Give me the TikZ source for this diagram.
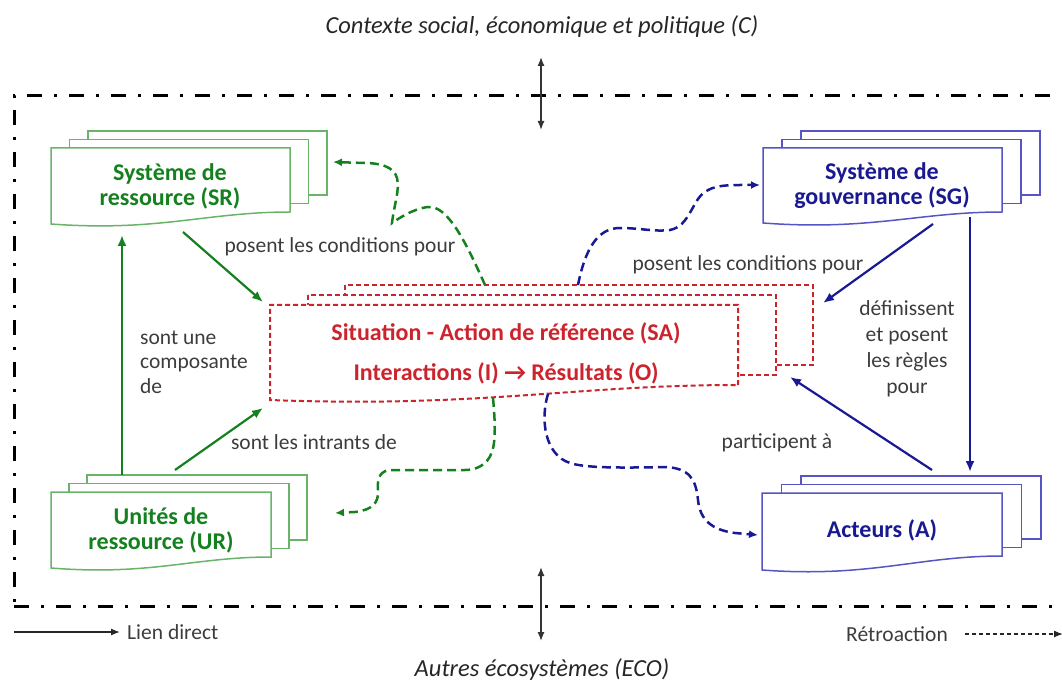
\documentclass[tikz,border=0pt]{standalone}
\usepackage{fontspec}
\setmainfont{Carlito}
\usetikzlibrary{arrows.meta,calc}

\definecolor{gtext}{RGB}{20,128,30}
\definecolor{gline}{RGB}{105,180,105}
\definecolor{garrow}{RGB}{20,128,30}
\definecolor{btext}{RGB}{25,25,145}
\definecolor{bline}{RGB}{85,85,195}
\definecolor{barrow}{RGB}{25,25,150}
\definecolor{rcol}{RGB}{205,35,45}
\definecolor{lbl}{RGB}{60,60,60}

\tikzset{
  framebox/.style={inner sep=0pt, outer sep=0pt, minimum width=#1},
  boxtext/.style={font=\bfseries\fontsize{24}{25}\selectfont, align=center, inner sep=0pt},
  lbltext/.style={font=\fontsize{21.5}{25}\selectfont, text=lbl, inner sep=0pt},
  ittext/.style={font=\itshape\fontsize{24.5}{25}\selectfont, text=black!85, inner sep=0pt},
  gdoc/.style={draw=gline, line width=1.5pt, fill=white},
  bdoc/.style={draw=bline, line width=1.5pt, fill=white},
  rdoc/.style={draw=rcol, line width=2pt, dash pattern=on 5pt off 3pt, fill=white},
  garr/.style={draw=garrow, line width=2.2pt, -{Latex[length=11pt,width=9pt]}},
  barr/.style={draw=barrow, line width=2.2pt, -{Latex[length=11pt,width=9pt]}},
  gfb/.style={draw=garrow, line width=2.5pt, dash pattern=on 9pt off 5pt, -{Latex[length=9pt,width=8pt]}},
  bfb/.style={draw=barrow, line width=2.5pt, dash pattern=on 9pt off 5pt, -{Latex[length=9pt,width=8pt]}},
  ctxarr/.style={draw=black!80, line width=1.3pt, {Latex[length=9pt,width=7pt]}-{Latex[length=9pt,width=7pt]}},
}

% #1 node, #2 style, #3 dx, #4 dy, #5 dip
\newcommand\docstack[5]{%
  \path[#2] ([shift={(2*#3,2*#4)}]#1.north west) rectangle ([shift={(2*#3,2*#4)}]#1.south east);
  \path[#2] ([shift={(#3,#4)}]#1.north west) rectangle ([shift={(#3,#4)}]#1.south east);
  \path[#2] (#1.south east) -- (#1.north east) -- (#1.north west) -- ($(#1.south west)+(0,#5)$)
    .. controls ($(#1.south west)!0.45!(#1.south east)+(0,#5+8)$) and ($(#1.south west)!0.65!(#1.south east)$) .. (#1.south east) -- cycle;
}

\begin{document}
\begin{tikzpicture}[x=1pt,y=-1pt]
\useasboundingbox (0,0) rectangle (1062,684);

% outer frame
\node[draw=black, line width=3pt, dash pattern=on 15pt off 12pt on 3pt off 12pt,
      minimum width=1061pt, minimum height=510pt, inner sep=0pt] (F) at (544.5,351) {};

% context texts
\node[ittext] (C) at (542,27) {Contexte social, économique et politique (C)};
\node[ittext] (ECO) at (542,670) {Autres écosystèmes (ECO)};
\coordinate (ctop) at (541,57);
\coordinate (cbot) at (541,130);
\coordinate (etop) at (541,567);
\coordinate (ebot) at (541,641);
\draw[ctxarr] (ctop) -- (cbot);
\draw[ctxarr] (etop) -- (ebot);

% box frames
\node[framebox=239pt, minimum height=64pt] (SR) at (170.5,180) {};
\node[framebox=220pt, minimum height=65pt] (UR) at (161,524.5) {};
\node[framebox=239pt, minimum height=64pt] (SG) at (882.5,180) {};
\node[framebox=240pt, minimum height=63pt] (A) at (882,524.5) {};
\node[framebox=468pt, minimum height=80pt] (SA) at (504,345) {};

\docstack{SR}{gdoc}{18.5}{-8.5}{12}
\docstack{UR}{gdoc}{18}{-8.5}{11}
\docstack{SG}{bdoc}{19}{-8.5}{11}
\docstack{A}{bdoc}{19.5}{-8.5}{14}
\docstack{SA}{rdoc}{37.5}{-10}{15}

% box texts
\node[boxtext, text=gtext] (SRt) at (170,186) {Système de\\ressource (SR)};
\node[boxtext, text=gtext] (URt) at (161,530) {Unités de\\ressource (UR)};
\node[boxtext, text=btext] (SGt) at (882,186) {Système de\\gouvernance (SG)};
\node[boxtext, text=btext] (At) at (882,530) {Acteurs (A)};
\node[boxtext, text=rcol, font=\bfseries\fontsize{24}{40}\selectfont] (SAt) at (506,353)
  {Situation - Action de référence (SA)\\Interactions (I) \textrightarrow{} Résultats (O)};

% labels
\node[lbltext] (L1) at (340,247) {posent les conditions pour};
\node[lbltext, align=left, anchor=west, font=\fontsize{21.5}{24.5}\selectfont] (L2) at (140,362) {sont une\\composante\\de};
\node[lbltext] (L3) at (314,442) {sont les intrants de};
\node[lbltext] (L4) at (748,265) {posent les conditions pour};
\node[lbltext, align=center, font=\fontsize{21.5}{26}\selectfont] (L5) at (907,349) {définissent\\et posent\\les règles\\pour};
\node[lbltext] (L6) at (777,443) {participent à};

% solid links
\draw[garr] ($(SR.south)+(12.5,20)$) -- ($(SA.north west)+(-7,-3)$);
\draw[garr] ($(UR.north west)+(71,-17)$) -- ($(SR.south west)+(71,23)$);
\draw[garr] ($(UR.north west)+(124,-22)$) -- ($(SA.south west)+(-7,23)$);
\draw[barr] ($(SG.south west)+(170,12)$) -- ($(SA.north east)+(85,-2)$);
\draw[barr] ($(SG.south west)+(207,5)$) -- ($(A.north west)+(208,-21)$);
\draw[barr] ($(A.north west)+(170,-23)$) -- ($(SA.south east)+(52,-8)$);

% feedback links
\draw[gfb] ($(SA.north west)+(215,-20)$) .. controls (465,240) and (447,205) .. (428,207)
  .. controls (412,209) and (398,219) .. (392,223)
  .. controls (394,205) and (400,190) .. (397,178)
  .. controls (394,166) and (378,163) .. (365,163) -- ($(SR.north east)+(43,14)$);
\draw[gfb] ($(SA.south west)+(223,13)$) .. controls (495,420) and (496,440) .. (492,452)
  .. controls (487,466) and (475,470) .. (465,470) -- (392,470)
  .. controls (380,470) and (377,478) .. (378,490)
  .. controls (379,503) and (372,510) .. (355,512) -- ($(UR.north east)+(64,21)$);
\draw[bfb] ($(SA.north west)+(308,-20)$) .. controls (585,250) and (597,228) .. (620,228)
  .. controls (640,228) and (655,232) .. (670,230)
  .. controls (690,226) and (692,200) .. (705,192)
  .. controls (713,186) and (725,185) .. (740,185) -- ($(SG.north west)+(-3,37)$);
\draw[bfb] ($(SA.south west)+(278,9)$) .. controls (540,420) and (545,455) .. (570,463)
  .. controls (585,468) and (620,468) .. (665,467)
  .. controls (690,468) and (696,480) .. (698,500)
  .. controls (700,520) and (712,530) .. (735,533) -- ($(A.north west)+(-4,42)$);

% legend
\node[lbltext, anchor=west] (LD) at (127,632) {Lien direct};
\coordinate (ld0) at (14,632);
\draw[draw=black!85, line width=1.3pt, -{Latex[length=9pt,width=7pt]}] (ld0) -- ([xshift=-7pt]LD.west);
\node[lbltext, anchor=east] (RT) at (948,634) {Rétroaction};
\coordinate (rt1) at (1063,634);
\draw[draw=black!85, line width=1.3pt, dash pattern=on 4pt off 3pt, -{Latex[length=9pt,width=7pt]}] ([xshift=17pt]RT.east) -- (rt1);
\end{tikzpicture}
\end{document}
